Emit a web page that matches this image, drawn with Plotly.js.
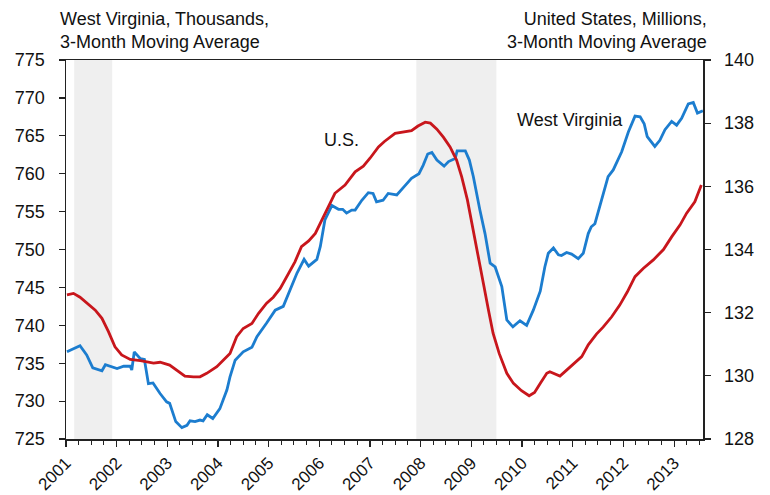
<!DOCTYPE html>
<html>
<head>
<meta charset="utf-8">
<script src="https://cdn.plot.ly/plotly-3.0.1.min.js"></script>
<style>
  html, body { margin: 0; padding: 0; background: #fff; }
  #chart { width: 770px; height: 495px; }
</style>
</head>
<body>
<div id="chart"></div>
<script>
// West Virginia employment, thousands (3-month moving average)
const wvDates = ['2001-01-08','2001-04-12','2001-05-30','2001-07-13','2001-09-17','2001-10-12','2002-01-04','2002-02-21','2002-04-09','2002-04-20','2002-05-08','2002-06-21','2002-07-20','2002-08-18','2002-09-20','2002-11-10','2002-12-27','2003-01-18','2003-03-03','2003-04-16','2003-05-23','2003-06-14','2003-07-20','2003-08-25','2003-09-16','2003-10-16','2003-11-25','2004-01-15','2004-03-06','2004-03-28','2004-05-04','2004-07-01','2004-09-02','2004-10-08','2004-12-17','2005-02-17','2005-04-16','2005-06-03','2005-07-24','2005-09-13','2005-10-16','2005-12-14','2006-01-08','2006-02-10','2006-04-01','2006-05-19','2006-06-18','2006-07-16','2006-08-22','2006-09-16','2006-11-03','2006-12-20','2007-01-23','2007-02-17','2007-04-05','2007-05-12','2007-07-13','2007-09-09','2007-10-27','2007-12-20','2008-01-19','2008-02-21','2008-03-22','2008-04-27','2008-06-18','2008-07-20','2008-09-06','2008-09-20','2008-11-18','2008-12-17','2009-01-15','2009-03-03','2009-04-09','2009-05-16','2009-06-21','2009-08-08','2009-09-13','2009-10-27','2009-12-17','2010-02-03','2010-03-23','2010-05-12','2010-06-14','2010-07-09','2010-08-15','2010-09-20','2010-10-12','2010-11-18','2010-12-24','2011-02-10','2011-03-18','2011-04-23','2011-05-15','2011-06-10','2011-07-27','2011-09-13','2011-10-20','2011-12-20','2012-02-06','2012-03-25','2012-05-01','2012-05-30','2012-06-21','2012-08-15','2012-09-20','2012-10-27','2012-12-14','2013-01-19','2013-02-24','2013-04-13','2013-05-19','2013-06-18','2013-07-27'];
const wvValues = [736.5,737.3,736.1,734.4,734.0,734.8,734.3,734.6,734.6,734.1,736.5,735.6,735.5,732.3,732.4,731.0,729.9,729.7,727.3,726.5,726.8,727.4,727.3,727.5,727.4,728.2,727.7,729.0,731.5,733.2,735.4,736.5,737.1,738.5,740.3,742.0,742.5,744.7,746.9,748.7,747.8,748.7,750.4,753.9,755.8,755.3,755.3,754.8,755.2,755.2,756.5,757.5,757.4,756.3,756.5,757.4,757.2,758.4,759.4,760.0,761.1,762.6,762.8,761.8,761.0,761.6,762.0,763.0,763.0,761.8,759.6,755.2,752.1,748.2,747.7,745.1,740.7,739.8,740.6,740.0,742.0,744.5,747.7,749.5,750.2,749.3,749.2,749.6,749.4,748.8,749.5,752.1,753.0,753.4,756.5,759.6,760.5,762.9,765.5,767.6,767.5,766.6,764.9,763.6,764.4,765.8,766.9,766.4,767.3,769.2,769.4,768.0,768.3];

// United States employment, millions (3-month moving average)
const usDates = ['2001-01-08','2001-02-24','2001-04-12','2001-06-14','2001-07-31','2001-09-17','2001-11-03','2001-12-20','2002-02-06','2002-04-09','2002-06-21','2002-09-24','2002-11-10','2003-01-18','2003-03-21','2003-05-08','2003-07-09','2003-08-25','2003-10-12','2003-12-24','2004-02-10','2004-03-28','2004-05-15','2004-07-01','2004-09-02','2004-10-20','2004-12-17','2005-02-03','2005-03-25','2005-05-23','2005-07-09','2005-08-25','2005-10-16','2005-12-03','2006-01-19','2006-03-07','2006-04-23','2006-07-05','2006-08-22','2006-09-16','2006-11-14','2007-01-01','2007-03-03','2007-04-15','2007-07-01','2007-09-09','2007-10-27','2007-12-13','2008-02-03','2008-03-11','2008-04-27','2008-06-14','2008-07-31','2008-09-16','2008-10-23','2008-12-03','2009-01-15','2009-02-21','2009-03-28','2009-05-04','2009-06-06','2009-07-20','2009-09-13','2009-10-31','2009-12-28','2010-02-21','2010-04-01','2010-05-15','2010-06-28','2010-07-20','2010-08-15','2010-10-01','2010-11-18','2011-01-08','2011-03-07','2011-04-23','2011-06-21','2011-08-08','2011-10-09','2011-12-06','2012-01-30','2012-03-25','2012-05-23','2012-08-04','2012-10-16','2012-12-14','2013-02-13','2013-04-01','2013-05-30','2013-07-16'];
const usValues = [132.56,132.61,132.49,132.24,132.08,131.82,131.40,130.92,130.66,130.52,130.48,130.40,130.43,130.34,130.15,129.99,129.97,129.97,130.08,130.29,130.50,130.71,131.24,131.50,131.66,131.98,132.30,132.49,132.77,133.25,133.61,134.09,134.27,134.51,134.93,135.39,135.78,136.04,136.31,136.46,136.64,136.89,137.25,137.42,137.68,137.73,137.76,137.91,138.03,138.00,137.81,137.55,137.25,136.83,136.30,135.57,134.62,133.77,132.93,132.08,131.35,130.71,130.08,129.76,129.53,129.37,129.47,129.78,130.08,130.13,130.08,129.99,130.18,130.37,130.61,130.98,131.32,131.54,131.87,132.24,132.66,133.14,133.40,133.67,134.00,134.40,134.78,135.15,135.51,136.04];

// Recessions (shaded)
const recStarts = ['2001-03-01','2007-12-01'];
const recEnds   = ['2001-11-30','2009-06-30'];

const FONT = 'Liberation Sans, Arial, Helvetica, sans-serif';
const BLUE = '#1c7dcf';
const RED = '#c8161c';

const traces = [
  { x: usDates, y: usValues, yaxis: 'y2', type: 'scatter', mode: 'lines',
    line: { color: RED, width: 2.8 }, name: 'U.S.' },
  { x: wvDates, y: wvValues, yaxis: 'y', type: 'scatter', mode: 'lines',
    line: { color: BLUE, width: 2.8 }, name: 'West Virginia' }
];

const shapes = recStarts.map((s, i) => ({
  type: 'rect', xref: 'x', yref: 'paper', x0: s, x1: recEnds[i], y0: 0, y1: 1,
  fillcolor: '#efefef', line: { width: 0 }, layer: 'below'
}));

const layout = {
  width: 770, height: 495,
  margin: { l: 66, r: 67, t: 60, b: 56 },
  paper_bgcolor: '#fff', plot_bgcolor: '#fff',
  showlegend: false,
  font: { family: FONT, color: '#111', size: 18 },
  xaxis: {
    type: 'date',
    range: ['2001-01-01', '2013-07-28'],
    tick0: '2001-01-01', dtick: 'M12', tickformat: '%Y',
    tickangle: -45,
    ticks: 'outside', ticklen: 6, tickwidth: 1.2, tickcolor: '#222',
    minor: { dtick: 'M3', ticks: 'outside', ticklen: 4, tickwidth: 1, tickcolor: '#222', showgrid: false },
    showline: true, linecolor: '#222', linewidth: 1.5, mirror: true,
    showgrid: false, zeroline: false,
    tickfont: { family: FONT, size: 17, color: '#111' }
  },
  yaxis: {
    range: [725, 775], dtick: 5, tick0: 725,
    ticks: 'outside', ticklen: 6, tickwidth: 1.2, tickcolor: '#222',
    ticklabelstandoff: 10,
    showline: true, linecolor: '#222', linewidth: 1.5,
    showgrid: false, zeroline: false,
    tickfont: { family: FONT, size: 18, color: '#111' }
  },
  yaxis2: {
    range: [128, 140], dtick: 2, tick0: 128,
    overlaying: 'y', side: 'right',
    ticks: 'outside', ticklen: 6, tickwidth: 1.2, tickcolor: '#222',
    ticklabelstandoff: 10,
    showline: true, linecolor: '#222', linewidth: 1.5,
    showgrid: false, zeroline: false,
    tickfont: { family: FONT, size: 18, color: '#111' }
  },
  shapes: shapes,
  annotations: [
    { text: 'West Virginia, Thousands,<br>3-Month Moving Average', xref: 'paper', yref: 'paper',
      x: -0.012, y: 1, xanchor: 'left', yanchor: 'bottom', yshift: 6, align: 'left', showarrow: false,
      font: { family: FONT, size: 18, color: '#111' } },
    { text: 'United States, Millions,<br>3-Month Moving Average', xref: 'paper', yref: 'paper',
      x: 1.009, y: 1, xanchor: 'right', yanchor: 'bottom', yshift: 6, align: 'right', showarrow: false,
      font: { family: FONT, size: 18, color: '#111' } },
    { text: 'U.S.', xref: 'x', yref: 'y', x: '2006-06-10', y: 764.5, showarrow: false,
      font: { family: FONT, size: 18, color: '#111' } },
    { text: 'West Virginia', xref: 'x', yref: 'y', x: '2010-12-10', y: 767.1, showarrow: false,
      font: { family: FONT, size: 18, color: '#111' } }
  ]
};

Plotly.newPlot('chart', traces, layout, { staticPlot: true, displayModeBar: false });
</script>
</body>
</html>
